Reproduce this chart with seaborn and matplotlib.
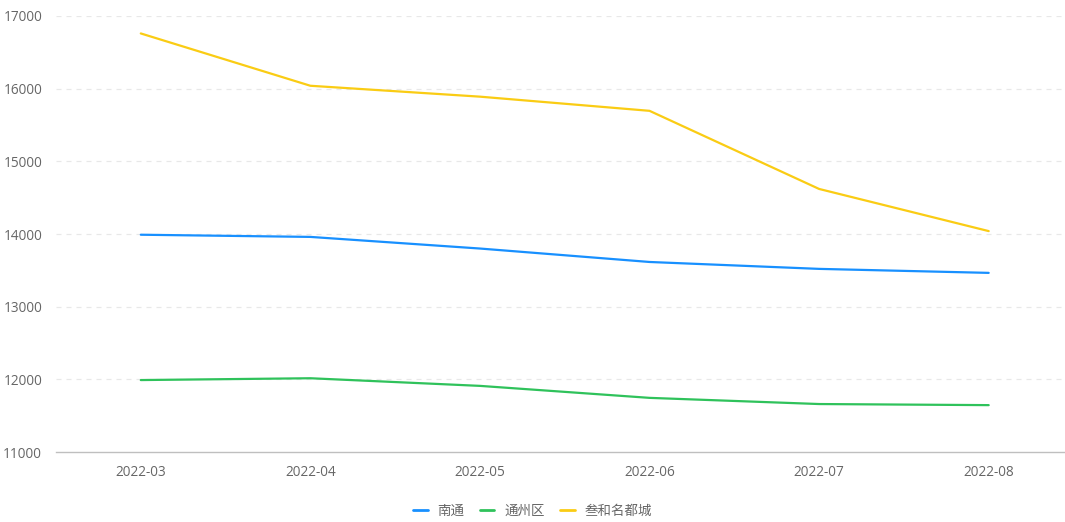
import pandas as pd
import matplotlib
matplotlib.use("Agg")
import matplotlib.pyplot as plt
import seaborn as sns

months = ["2022-03", "2022-04", "2022-05", "2022-06", "2022-07", "2022-08"]
nantong = [13990, 13960, 13800, 13615, 13520, 13465]
tongzhou = [11990, 12015, 11910, 11745, 11660, 11645]
sanhe = [16760, 16040, 15890, 15695, 14620, 14040]

series_names = ["南通", "通州区", "叁和名都城"]
colors = ["#1890ff", "#2fc25b", "#facc14"]

df = pd.DataFrame({
    "month": months * 3,
    "price": nantong + tongzhou + sanhe,
    "name": [series_names[0]] * 6 + [series_names[1]] * 6 + [series_names[2]] * 6,
})
df["pos"] = df["month"].map({m: i for i, m in enumerate(months)})

sns.set_style("white")
plt.rcParams["font.family"] = ["Open Sans", "Noto Sans CJK SC", "DejaVu Sans"]

fig = plt.figure(figsize=(10.65, 5.22), dpi=100)
ax = fig.add_axes([56 / 1065, 1 - 452 / 522, 1 - 56 / 1065, 436 / 522])

sns.lineplot(data=df, x="pos", y="price", hue="name", hue_order=series_names,
             palette=colors, linewidth=1.6, ax=ax, legend=False)

ax.set_xlim(-0.5, 5.45)
ax.set_ylim(11000, 17000)
ax.set_yticks(range(11000, 17001, 1000))
ax.set_xticks(range(len(months)))
ax.set_xticklabels(months)
ax.set_xlabel("")
ax.set_ylabel("")

for y in range(12000, 17001, 1000):
    ax.axhline(y, color="#e8e8e8", linestyle=(0, (4, 4)), linewidth=0.9, zorder=0)

for side in ["top", "right", "left"]:
    ax.spines[side].set_visible(False)
ax.spines["bottom"].set_color("#bfbfbf")
ax.spines["bottom"].set_linewidth(1)
ax.tick_params(axis="y", length=0, pad=10, labelsize=9.8, labelcolor="#666666")
ax.tick_params(axis="x", length=5, color="#bfbfbf", pad=4, labelsize=9.8, labelcolor="#666666")

handles = [plt.Line2D([], [], color=c, linewidth=2) for c in colors]
fig.legend(handles, series_names, loc="center", bbox_to_anchor=(0.5, 1 - 511 / 522),
           ncol=3, frameon=False, labelcolor="#666666",
           prop={"family": ["Noto Sans CJK SC", "DejaVu Sans"], "size": 9.7},
           handlelength=1.1, handletextpad=0.75, columnspacing=1.1)

fig.savefig("out.png", dpi=100)
